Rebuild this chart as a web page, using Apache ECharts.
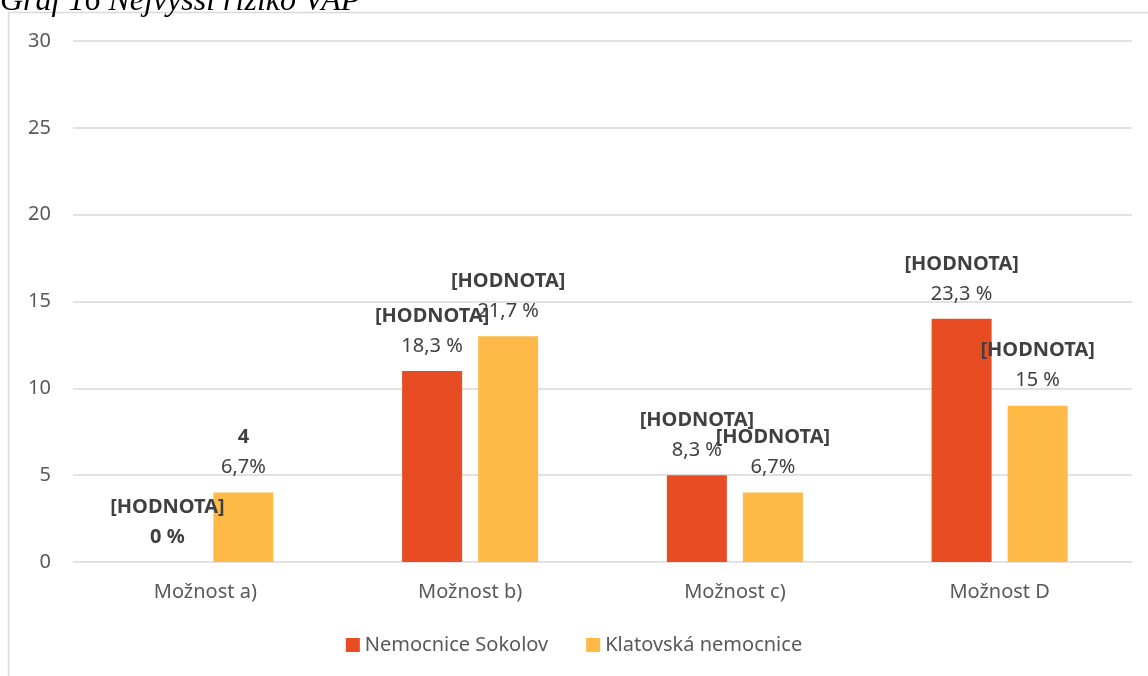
<!DOCTYPE html>
<html>
<head>
<meta charset="utf-8">
<script src="https://cdn.jsdelivr.net/npm/echarts@6/dist/echarts.min.js"></script>
<style>
  html, body { margin: 0; padding: 0; background: #fff; }
  #myChart { width: 1148px; height: 676px; }
</style>
</head>
<body>
<div id="myChart"></div>
<script>
// data
var categories = ["Možnost a)", "Možnost b)", "Možnost c)", "Možnost D"];
var seriesNames = ["Nemocnice Sokolov", "Klatovská nemocnice"];
var sokolovValues = [0, 11, 5, 14];
var klatovyValues = [4, 13, 4, 9];
var sokolovHeads = ["[HODNOTA]", "[HODNOTA]", "[HODNOTA]", "[HODNOTA]"];
var klatovyHeads = ["4", "[HODNOTA]", "[HODNOTA]", "[HODNOTA]"];
var sokolovPercents = ["0 %", "18,3 %", "8,3 %", "23,3 %"];
var klatovyPercents = ["6,7%", "21,7 %", "6,7%", "15 %"];
var yTicks = [0, 5, 10, 15, 20, 25, 30];

var RED = "#E84C22";
var YELLOW = "#FFB946";

function buildData(values, heads, percents, boldPercentAt) {
    return values.map(function (v, i) {
        var pctStyle = (i === boldPercentAt) ? "b" : "n";
        return {
            value: v,
            label: {
                formatter: "{b|" + heads[i] + "}\n{" + pctStyle + "|" + percents[i] + "}"
            }
        };
    });
}

var labelRich = {
    b: { fontFamily: "Noto Sans", fontSize: 20, fontWeight: "bold", color: "#404040", lineHeight: 30 },
    n: { fontFamily: "Noto Sans", fontSize: 20, color: "#404040", lineHeight: 30 }
};

var myChart = echarts.init(document.getElementById("myChart"));
myChart.setOption({
    backgroundColor: "#fff",
    animation: false,
    graphic: [
        {
            type: "rect",
            shape: { x: 8.5, y: 12.5, width: 1300, height: 800 },
            style: { fill: "none", stroke: "#d9d9d9", lineWidth: 1.5 },
            silent: true
        },
        {
            type: "text",
            left: 0,
            top: -14,
            style: {
                text: "Graf 16 Nejvyšší riziko VAP",
                font: "italic 32px 'Liberation Serif'",
                fill: "#000"
            }
        }
    ],
    grid: {
        left: 73,
        right: 16,
        top: 41,
        bottom: 114
    },
    legend: {
        bottom: 16,
        left: "center",
        itemWidth: 14,
        itemHeight: 14,
        itemGap: 38,
        icon: "rect",
        data: seriesNames,
        textStyle: { fontFamily: "Noto Sans", fontSize: 20, color: "#595959" }
    },
    xAxis: {
        type: "category",
        data: categories,
        axisTick: { show: false },
        axisLine: { show: false },
        axisLabel: {
            margin: 20,
            fontFamily: "Noto Sans",
            fontSize: 20,
            color: "#595959"
        }
    },
    yAxis: {
        type: "value",
        min: yTicks[0],
        max: yTicks[yTicks.length - 1],
        interval: 5,
        axisLine: { show: false },
        axisTick: { show: false },
        axisLabel: {
            margin: 22,
            fontFamily: "Noto Sans",
            fontSize: 20,
            color: "#595959"
        },
        splitLine: { lineStyle: { color: "#d9d9d9", width: 1.5 } }
    },
    series: [
        {
            name: seriesNames[0],
            type: "bar",
            barWidth: 60,
            barGap: "26.7%",
            itemStyle: { color: RED },
            label: { show: true, position: "top", distance: 10, rich: labelRich },
            data: buildData(sokolovValues, sokolovHeads, sokolovPercents, 0)
        },
        {
            name: seriesNames[1],
            type: "bar",
            barWidth: 60,
            itemStyle: { color: YELLOW },
            label: { show: true, position: "top", distance: 10, rich: labelRich },
            data: buildData(klatovyValues, klatovyHeads, klatovyPercents, -1)
        }
    ]
});
</script>
</body>
</html>
